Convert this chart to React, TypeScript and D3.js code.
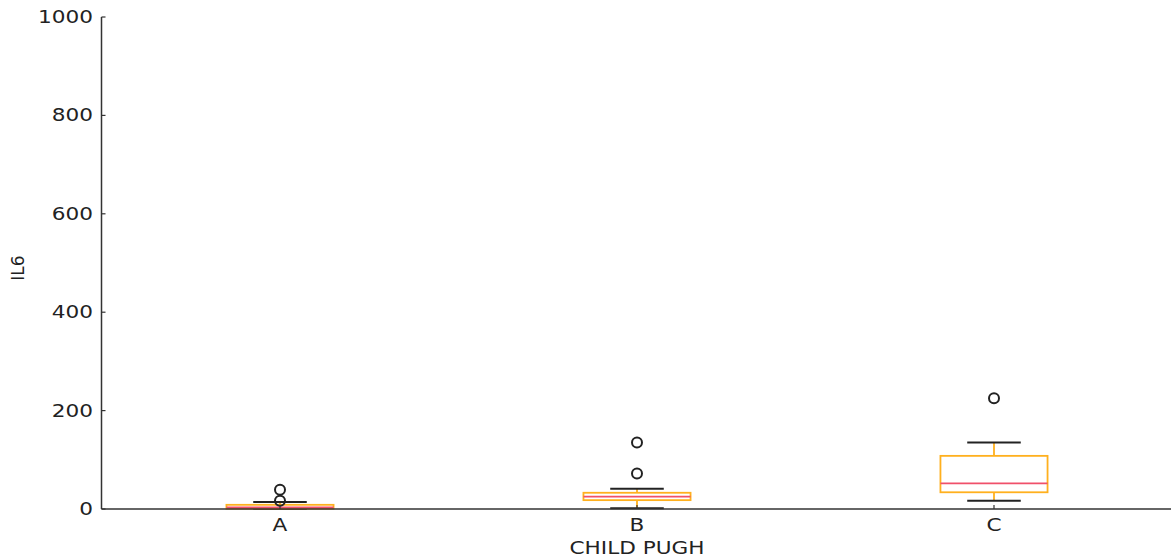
import * as d3 from 'd3';

const categories = ['A', 'B', 'C'];
const q1 = [0.5, 18, 34];
const medians = [3, 25, 52];
const q3 = [8.5, 33, 108];
const whiskerLow = [0, 1.5, 17];
const whiskerHigh = [14, 41, 135];
const outliers = [[17, 39], [72, 135], [225]];
const yTicks = [0, 200, 400, 600, 800, 1000];

const W = 1171;
const H = 560;
const font = '"DejaVu Sans", sans-serif';
const SX = 1.27;

// stretched label, drawn at (x, y)
const Label = ({ x, y, anchor, children, rotate = 0 }: any) => (
  <text
    transform={`translate(${x},${y}) rotate(${rotate}) scale(${SX},1)`}
    textAnchor={anchor}
    fontSize={17}
    fill="#222"
  >
    {children}
  </text>
);

export default function App() {
  const x = d3.scaleLinear().domain([0.5, 3.5]).range([101.5, 1172.5]);
  const y = d3.scaleLinear().domain([0, 1000]).range([509, 17]);
  const boxW = x(0.3) - x(0);
  const capW = x(0.15) - x(0);

  return (
    <svg width={W} height={H} style={{ position: 'fixed', top: 0, left: 0, background: '#fff' }} fontFamily={font}>
      {categories.map((c, i) => {
        const cx = x(i + 1);
        return (
          <g key={c}>
            <line x1={cx} x2={cx} y1={y(q3[i])} y2={y(whiskerHigh[i])} stroke="#FFB01E" strokeWidth={1.8} />
            <line x1={cx} x2={cx} y1={y(q1[i])} y2={y(whiskerLow[i])} stroke="#FFB01E" strokeWidth={1.8} />
            <line x1={cx - capW / 2} x2={cx + capW / 2} y1={y(whiskerHigh[i])} y2={y(whiskerHigh[i])} stroke="#222" strokeWidth={2} />
            <line x1={cx - capW / 2} x2={cx + capW / 2} y1={y(whiskerLow[i])} y2={y(whiskerLow[i])} stroke="#222" strokeWidth={2} />
            <rect x={cx - boxW / 2} y={y(q3[i])} width={boxW} height={Math.max(y(q1[i]) - y(q3[i]), 1)} fill="none" stroke="#FFB01E" strokeWidth={1.8} />
            <line x1={cx - boxW / 2} x2={cx + boxW / 2} y1={y(medians[i])} y2={y(medians[i])} stroke="#F0506A" strokeWidth={1.8} />
            {outliers[i].map((o, j) => (
              <circle key={j} cx={cx} cy={y(o)} r={5} fill="none" stroke="#222" strokeWidth={2} />
            ))}
          </g>
        );
      })}
      <line x1={101.5} x2={101.5} y1={17} y2={509} stroke="#333" strokeWidth={1.5} />
      <line x1={101.5} x2={W} y1={509} y2={509} stroke="#333" strokeWidth={1.5} />
      {yTicks.map((t) => (
        <g key={t}>
          <line x1={101.5} x2={105.5} y1={y(t)} y2={y(t)} stroke="#333" strokeWidth={1.2} />
          <Label x={93} y={y(t) + 6} anchor="end">{t}</Label>
        </g>
      ))}
      {categories.map((c, i) => (
        <g key={c}>
          <line x1={x(i + 1)} x2={x(i + 1)} y1={509} y2={505} stroke="#333" strokeWidth={1.2} />
          <Label x={x(i + 1)} y={531} anchor="middle">{c}</Label>
        </g>
      ))}
      <Label x={x(2)} y={554} anchor="middle">CHILD PUGH</Label>
      <text transform="translate(24,268) rotate(-90)" textAnchor="middle" fontSize={17} fill="#222">IL6</text>
    </svg>
  );
}
